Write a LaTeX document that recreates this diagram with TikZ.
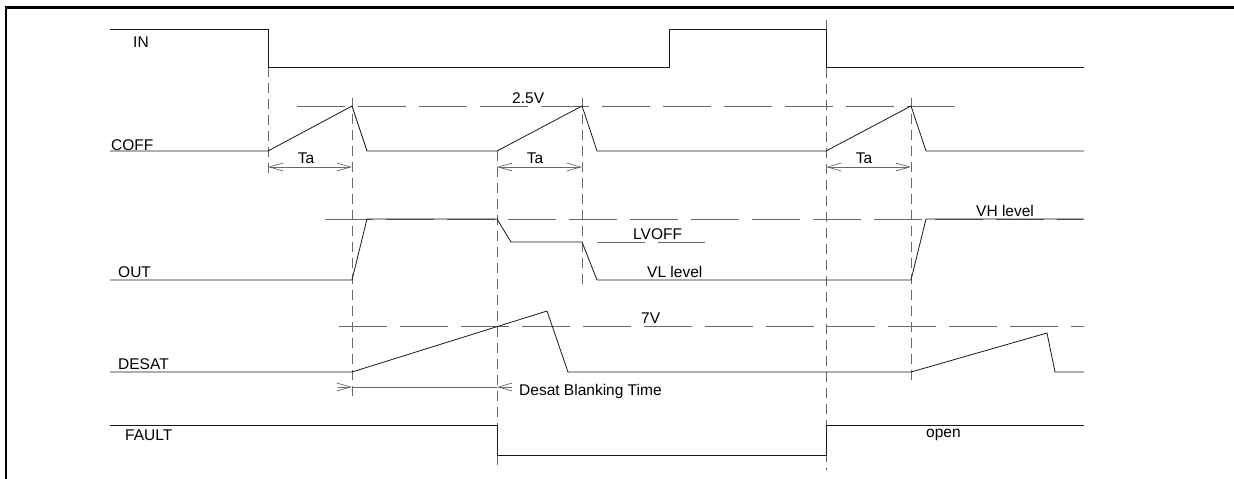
\documentclass[tikz,border=0pt]{standalone}
\usepackage{fontspec}
\setmainfont{Liberation Sans}
\usetikzlibrary{arrows.meta,positioning,calc}
\definecolor{myline}{RGB}{25,25,25}
\definecolor{mygray}{RGB}{105,105,105}

\begin{document}
\begin{tikzpicture}[x=1pt,y=-1pt,>={Straight Barb[length=14pt,width=8pt]},every node/.style={font=\fontsize{15.5}{18}\selectfont,inner sep=0pt}]
\tikzstyle{sig}=[myline,line width=0.8pt]
\tikzstyle{lvl}=[mygray,line width=1pt,dash pattern=on 48pt off 13pt]
\tikzstyle{guide}=[mygray,line width=0.8pt,dash pattern=on 10pt off 6pt]
\tikzstyle{dim}=[mygray,line width=0.7pt]
\tikzstyle{lbl}=[anchor=base west]
\useasboundingbox (0,0) rectangle (1234,479);
% frame
\draw[line width=2.2pt] (6.3,479) -- (6.3,7.5) -- (1234,7.5);
% levels
\draw[lvl] (297,106) -- (957,106);
\draw[lvl] (325,219) -- (1083,219);
\draw[lvl] (597,242) -- (705,242);
\draw[lvl] (339,326) -- (1084,326);
% time marks
\draw[guide] (268,67) -- (268,175);
\draw[guide] (352,98) -- (352,398);
\draw[guide] (497,151) -- (497,467);
\draw[guide] (582,98) -- (582,290);
\draw[guide] (826,20) -- (826,470);
\draw[guide] (911,98) -- (911,384);
% signals
\draw[sig] (110,29) -- (268,29) -- (268,67) -- (669,67) -- (669,29) -- (826,29) -- (826,67) -- (1084,67);
\draw[sig] (110,151) -- (268,151) -- (352,106) -- (367,151) -- (497,151) -- (582,106) -- (597,151) -- (826,151) -- (911,106) -- (926,151) -- (1084,151);
\draw[sig] (110,280) -- (352,280) -- (367,219) -- (497,219) -- (511,242) -- (582,242) -- (597,280) -- (911,280) -- (926,219) -- (1084,219);
\draw[sig] (110,372) -- (352,372) -- (547,311) -- (568,372) -- (911,372) -- (1047,333) -- (1055,372) -- (1084,372);
\draw[sig] (110,425) -- (497,425) -- (497,455) -- (826,455) -- (826,425) -- (1084,425);
% signal names
\node[lbl](in) at (133,47){IN};
\node[lbl](coff) at (111,150){COFF};
\node[lbl](out) at (118,277){OUT};
\node[lbl](desat) at (118,369){DESAT};
\node[lbl](fault) at (125,440){FAULT};
% level names
\node[lbl](v25) at (512,103){2.5V};
\node[lbl](lvoff) at (633,239){LVOFF};
\node[lbl](vl) at (647,277){VL level};
\node[lbl](vh) at (976,216){VH level};
\node[lbl](v7) at (641,323){7V};
\node[lbl](open) at (926,437){open};
% Ta
\coordinate (a0) at (268,167);
\coordinate (a1) at (352,167);
\coordinate (a2) at (497,167);
\coordinate (a3) at (582,167);
\coordinate (a4) at (826,167);
\coordinate (a5) at (911,167);
\draw[dim,<->] (a0) -- (a1);
\draw[dim,<->] (a2) -- (a3);
\draw[dim,<->] (a4) -- (a5);
\node[anchor=base](ta1) at (306,163){Ta};
\node[anchor=base](ta2) at (535,163){Ta};
\node[anchor=base](ta3) at (864,163){Ta};
% blanking time
\coordinate (b0) at (352,387);
\coordinate (b1) at (497,387);
\draw[dim] (b0) -- (b1);
\draw[dim,->] ($(b0)+(-14,0)$) -- (b0);
\draw[dim,->] ($(b1)+(15,0)$) -- (b1);
\node[lbl](blank) at (519,395){Desat Blanking Time};
\end{tikzpicture}
\end{document}
